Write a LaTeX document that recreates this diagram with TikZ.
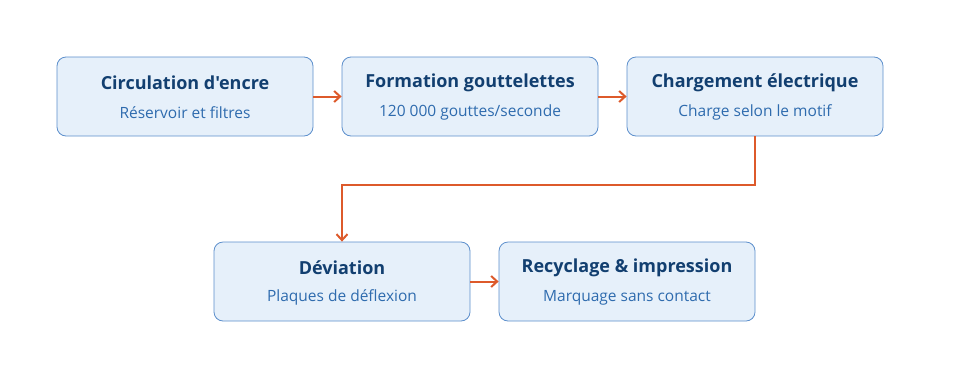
\documentclass[tikz,border=0pt]{standalone}
\usepackage{fontspec}
\setmainfont{Open Sans}[Ligatures=TeXOff]
\usetikzlibrary{arrows.meta}
\definecolor{boxfill}{HTML}{E6F0FA}
\definecolor{boxdraw}{HTML}{5C8FCC}
\definecolor{titlec}{HTML}{123F70}
\definecolor{subc}{HTML}{2E6BAE}
\definecolor{arrowc}{HTML}{DD5A2B}
\begin{document}
\begin{tikzpicture}[x=1pt,y=-1pt,
  stepbox/.style={draw=boxdraw, fill=boxfill, line width=0.8pt, rounded corners=9pt,
    minimum width=256pt, minimum height=79pt, inner sep=0pt},
  ttl/.style={font=\fontsize{18}{20}\selectfont\bfseries, text=titlec, inner sep=0pt},
  sub/.style={font=\fontsize{15.5}{17}\selectfont, text=subc, inner sep=0pt},
  conn/.style={draw=arrowc, line width=2pt, -{Straight Barb[length=6pt,width=11pt]}}]
\useasboundingbox (0,0) rectangle (968,370);
\foreach \n/\x/\y/\t/\s in {a/185/96.5/{Circulation d'encre}/{Réservoir et filtres},
  b/470/96.5/{Formation gouttelettes}/{120 000 gouttes/seconde},
  c/755/96.5/{Chargement électrique}/{Charge selon le motif},
  d/342/281.5/{Déviation}/{Plaques de déflexion},
  e/627/281.5/{Recyclage \& impression}/{Marquage sans contact}}{
  \node[stepbox] (\n) at (\x,\y) {};
  \node[ttl] (\n t) at (\x,\y-13.5) {\t};
  \node[sub] (\n s) at (\x,\y+16) {\s};
}
\draw[conn] (a) -- (b);
\draw[conn] (b) -- (c);
\draw[conn] (c.south) |- (342,185) -- (d.north);
\draw[conn] (d) -- (e);
\end{tikzpicture}
\end{document}
